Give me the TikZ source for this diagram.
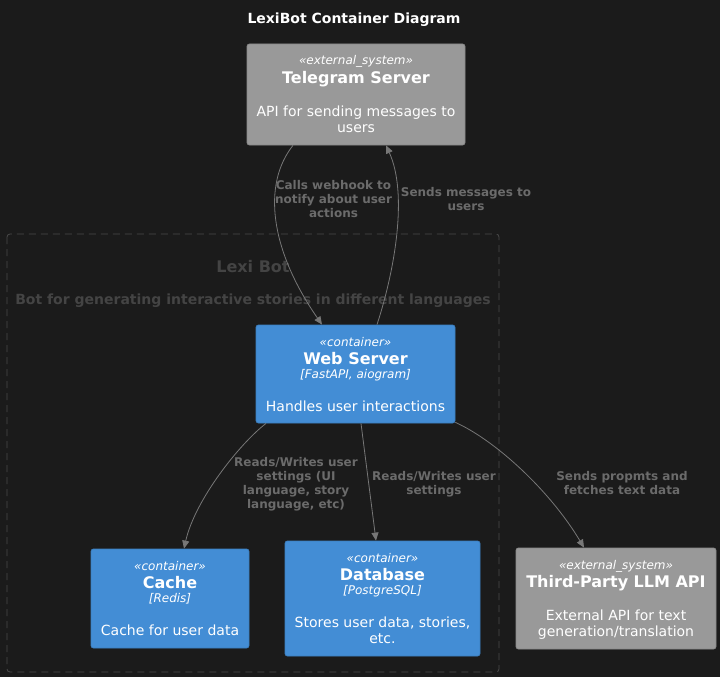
\documentclass[tikz,border=0pt]{standalone}
\usepackage{fontspec}
\setmainfont{DejaVu Sans}
\usetikzlibrary{arrows.meta,calc}
\definecolor{bg}{HTML}{1B1B1B}
\definecolor{extfill}{HTML}{999999}
\definecolor{extline}{HTML}{8A8A8A}
\definecolor{confill}{HTML}{438DD5}
\definecolor{conline}{HTML}{3C7FC0}
\definecolor{relline}{HTML}{777777}
\definecolor{reltext}{HTML}{6B6B6B}
\definecolor{bndline}{HTML}{4A4A4A}
\definecolor{bndtext}{HTML}{444444}
\begin{document}
\begin{tikzpicture}[x=1pt,y=-1pt,
  extbox/.style={draw=extline,fill=extfill,rounded corners=2.5pt,line width=0.8pt,inner sep=0pt},
  conbox/.style={draw=conline,fill=confill,rounded corners=2.5pt,line width=0.8pt,inner sep=0pt},
  stereo/.style={anchor=base,inner sep=0pt,text=white,font=\fontsize{12}{14}\selectfont\itshape},
  nm/.style={anchor=base,inner sep=0pt,text=white,font=\fontsize{16}{19}\selectfont\bfseries},
  tech/.style={anchor=base,inner sep=0pt,text=white,font=\fontsize{12}{14}\selectfont\itshape},
  desc/.style={anchor=base,inner sep=0pt,text=white,font=\fontsize{14}{16}\selectfont},
  rel/.style={draw=relline,line width=0.8pt,-{Triangle[length=8pt,width=7pt]}},
  rlab/.style={anchor=base,inner sep=0pt,text=reltext,font=\fontsize{12}{14}\selectfont\bfseries},
  bnd/.style={draw=bndline,dash pattern=on 7pt off 5pt,line width=0.8pt,rounded corners=3pt},
  bndlab/.style={anchor=base,inner sep=0pt,text=bndtext,font=\bfseries}
]
\fill[bg] (0,0) rectangle (720,677);
\useasboundingbox (0,0) rectangle (720,677);

% title
\node[anchor=base,inner sep=0pt,text=white,font=\fontsize{14}{17}\selectfont\bfseries] (title) at (354,23.3) {LexiBot Container Diagram};

% boundary
\draw[bnd] (7,234) rectangle (499,672);
\node[bndlab,font=\fontsize{16}{19}\selectfont\bfseries] (bndname) at (253,272.5) {Lexi Bot};
\node[bndlab,font=\fontsize{14}{17}\selectfont\bfseries] (bnddesc) at (253,304) {Bot for generating interactive stories in different languages};

% Telegram Server
\node[extbox,minimum width=218pt,minimum height=101pt] (tg) at (356,94.5) {};
\node[stereo] (tgs) at (356,65) {«external\_system»};
\node[nm] (tgn) at (356,83.5) {Telegram Server};
\node[desc] (tgd1) at (356,116.5) {API for sending messages to};
\node[desc] (tgd2) at (356,132) {users};

% Web Server
\node[conbox,minimum width=199pt,minimum height=98pt] (web) at (355.5,374) {};
\node[stereo] (webs) at (355.5,346) {«container»};
\node[nm] (webn) at (355.5,364.5) {Web Server};
\node[tech] (webt) at (355.5,378) {[FastAPI, aiogram]};
\node[desc] (webd) at (355.5,411) {Handles user interactions};

% Cache
\node[conbox,minimum width=158pt,minimum height=99pt] (cache) at (170,598.5) {};
\node[stereo] (cas) at (170,570) {«container»};
\node[nm] (can) at (170,588.5) {Cache};
\node[tech] (cat) at (170,602) {[Redis]};
\node[desc] (cad) at (170,635) {Cache for user data};

% Database
\node[conbox,minimum width=195pt,minimum height=115pt] (db) at (382.5,598.5) {};
\node[stereo] (dbs) at (382.5,562) {«container»};
\node[nm] (dbn) at (382.5,580.5) {Database};
\node[tech] (dbt) at (382.5,594) {[PostgreSQL]};
\node[desc] (dbd1) at (382.5,627) {Stores user data, stories,};
\node[desc] (dbd2) at (382.5,643) {etc.};

% Third-Party LLM API
\node[extbox,minimum width=200pt,minimum height=101pt] (llm) at (616,598.5) {};
\node[stereo] (llms) at (616,569) {«external\_system»};
\node[nm] (llmn) at (616,587) {Third-Party LLM API};
\node[desc] (llmd1) at (616,620.5) {External API for text};
\node[desc] (llmd2) at (616,636) {generation/translation};

% relations
\draw[rel] ($(tg.south)+(-63,0)$) .. controls +(-31,39) and +(-52,-75) .. ($(web.north)+(-33.5,0)$);
\draw[rel] ($(web.north)+(21.5,0)$) .. controls +(18,-55) and +(22,48) .. ($(tg.south)+(30,0)$);
\draw[rel] ($(web.south)+(-89.5,0)$) .. controls +(-26,20) and +(11,-49) .. ($(cache.north)+(14,0)$);
\draw[rel] ($(web.south)+(5.5,0)$) -- ($(db.north)+(-6.5,0)$);
\draw[rel] ($(web.south east)+(0,-1)$) .. controls +(40,18) and +(-34,-57) .. ($(llm.north)+(-32,0)$);

% relation labels
\node[rlab] (r1a) at (333.5,189) {Calls webhook to};
\node[rlab] (r1b) at (333.5,203) {notify about user};
\node[rlab] (r1c) at (333.5,217) {actions};
\node[rlab] (r2a) at (466,196) {Sends messages to};
\node[rlab] (r2b) at (466,210) {users};
\node[rlab] (r3a) at (296,466) {Reads/Writes user};
\node[rlab] (r3b) at (296,480) {settings (UI};
\node[rlab] (r3c) at (296,494) {language, story};
\node[rlab] (r3d) at (296,508) {language, etc)};
\node[rlab] (r4a) at (434,480.5) {Reads/Writes user};
\node[rlab] (r4b) at (434,494.5) {settings};
\node[rlab] (r5a) at (622,480) {Sends propmts and};
\node[rlab] (r5b) at (622,494) {fetches text data};
\end{tikzpicture}
\end{document}
